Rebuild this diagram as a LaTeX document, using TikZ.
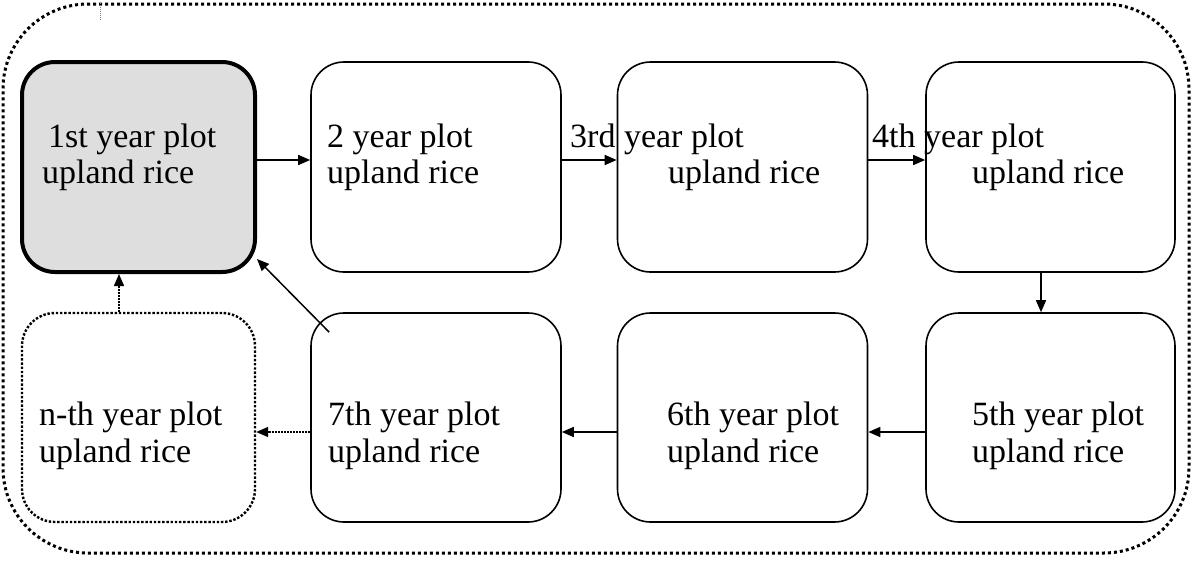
\documentclass[tikz,border=0pt]{standalone}
\usepackage{fontspec}
\setmainfont{Liberation Serif}
\usetikzlibrary{arrows.meta}
\definecolor{boxgray}{HTML}{DEDEDE}
\tikzset{
  box/.style={draw, rounded corners=33pt, line width=1.6pt, minimum width=250pt, minimum height=210pt, inner sep=0pt},
  firstbox/.style={box, line width=4pt, fill=boxgray, minimum width=233pt},
  nbox/.style={box, line width=2.4pt, dash pattern=on 2.4pt off 1.8pt, minimum width=233pt, minimum height=209pt},
  frame/.style={draw, rounded corners=85pt, line width=3pt, dash pattern=on 3pt off 3pt, minimum width=1186pt, minimum height=549pt, inner sep=0pt},
  lbl/.style={anchor=base west, inner sep=0pt, font=\fontsize{34}{37}\selectfont},
  arr/.style={line width=1.5pt, -{Triangle[length=12pt,width=10pt]}},
  darr/.style={arr, dash pattern=on 1.8pt off 1.2pt},
}
\begin{document}
\begin{tikzpicture}[x=1pt,y=-1pt]
\useasboundingbox (0,0) rectangle (1192,562);
\node[frame] (frame) at (596,278.5) {};
\draw[gray, line width=0.6pt, dash pattern=on 1pt off 1pt] (frame.north west -| 100,0) -- ++(0pt,-17pt) coordinate (tick);
% top row
\node[firstbox] (b1) at (138.5,167) {};
\node[box] (b2) at (436,167) {};
\node[box] (b3) at (742.5,167) {};
\node[box, minimum width=249pt] (b4) at (1050.5,167) {};
% bottom row
\node[box, minimum width=249pt, minimum height=209pt] (b5) at (1050.5,417.5) {};
\node[box, minimum height=209pt] (b6) at (742.5,417.5) {};
\node[box, minimum height=209pt] (b7) at (436,417.5) {};
\node[nbox] (bn) at (138.5,417.5) {};
% labels
\node[lbl] (t1a) at (48,147) {1st year plot};
\node[lbl] (t1b) at (42,183) {upland rice};
\node[lbl] (t2a) at (327,147) {2 year plot};
\node[lbl] (t2b) at (327,183) {upland rice};
\node[lbl] (t3a) at (570,147) {3rd year plot};
\node[lbl] (t3b) at (668,183) {upland rice};
\node[lbl] (t4a) at (872,147) {4th year plot};
\node[lbl] (t4b) at (972,183) {upland rice};
\node[lbl] (t5a) at (972,425) {5th year plot};
\node[lbl] (t5b) at (972,462) {upland rice};
\node[lbl] (t6a) at (667,425) {6th year plot};
\node[lbl] (t6b) at (667,462) {upland rice};
\node[lbl] (t7a) at (328,425) {7th year plot};
\node[lbl] (t7b) at (328,462) {upland rice};
\node[lbl] (tna) at (39,425) {n-th year plot};
\node[lbl] (tnb) at (39,462) {upland rice};
% arrows
\draw[arr] ([yshift=7pt]b1.east) -- ([yshift=7pt]b2.west);
\draw[arr] ([yshift=7pt]b2.east) -- ([yshift=7pt]b3.west);
\draw[arr] ([yshift=7pt]b3.east) -- ([yshift=7pt]b4.west);
\draw[arr] ([xshift=-9.5pt]b4.south) -- ([xshift=-9.5pt]b5.north);
\draw[arr] ([yshift=-14.5pt]b5.west) -- ([yshift=-14.5pt]b6.east);
\draw[arr] ([yshift=-14.5pt]b6.west) -- ([yshift=-14.5pt]b7.east);
\draw[darr] ([yshift=-14.5pt]b7.west) -- ([yshift=-14.5pt]bn.east);
\draw[darr] ([xshift=-19.5pt]bn.north) -- ([xshift=-19.5pt]b1.south);
\draw[arr] ([xshift=19pt,yshift=-20pt]b7.north west) -- ([yshift=15pt]b1.south east);
\end{tikzpicture}
\end{document}
